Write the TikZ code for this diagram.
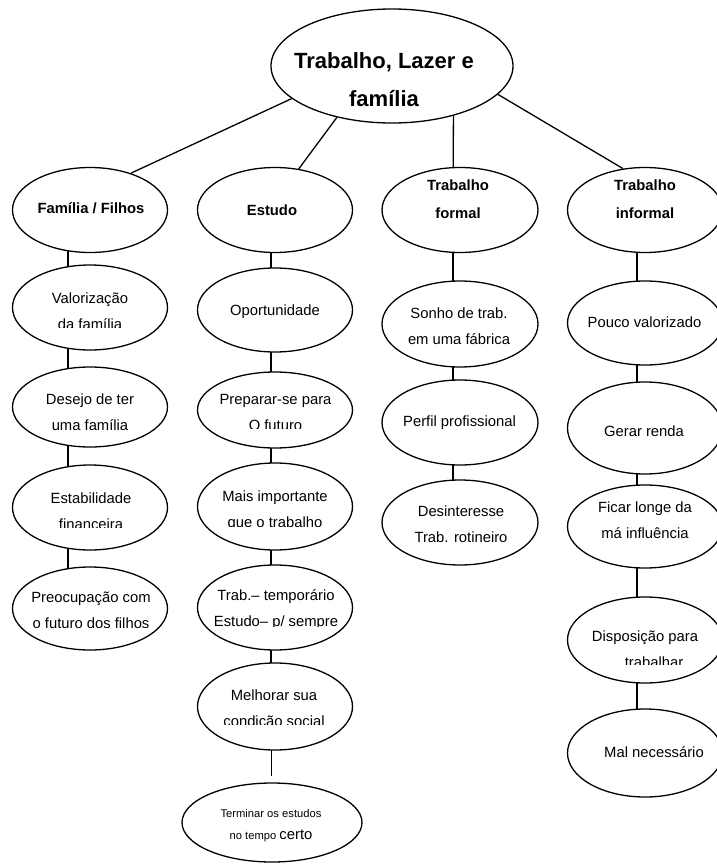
\documentclass[tikz,border=0pt]{standalone}
\usepackage{fontspec}
\setmainfont{Liberation Sans}
\usetikzlibrary{shapes.geometric,backgrounds}
\begin{document}
\begin{tikzpicture}[x=1pt,y=-1pt,
  oval/.style={draw, ellipse, line width=1.3pt, fill=white, inner sep=0pt,
               minimum width=155pt, minimum height=85pt},
  txt/.style={align=center, inner sep=0pt, font=\fontsize{14.8}{26}\selectfont},
  head/.style={align=center, inner sep=0pt, font=\bfseries\fontsize{14.8}{28}\selectfont},
  title/.style={align=center, inner sep=0pt, font=\bfseries\fontsize{22}{38}\selectfont},
  link/.style={line width=1.3pt}]
\useasboundingbox (0,0) rectangle (716,864);

% central theme
\node[oval, minimum width=242pt, minimum height=114pt] (root) at (392,66) {};
\node[title] (root-t) at (384,80) {Trabalho, Lazer e\\família};

% four branches
\node[oval] (fam) at (90,210) {};
\node[head] (fam-t) at (91,208) {Família / Filhos};
\node[oval] (est) at (275,210) {};
\node[head] (est-t) at (272,210) {Estudo};
\node[oval, minimum width=156pt] (tf) at (460,210) {};
\node[head] (tf-t) at (458,199) {Trabalho\\formal};
\node[oval] (ti) at (645,210) {};
\node[head] (ti-t) at (645,199) {Trabalho\\informal};

% Família / Filhos (text boxes cut off just above the last baseline)
\node[oval] (c1a) at (90,307.5) {};
\begin{scope}
  \clip (10,280) rectangle (170,327);
  \node[txt] (c1a-t) at (90,311.5) {Valorização\\da família};
\end{scope}
\node[oval, minimum height=80pt] (c1b) at (90,407) {};
\node[txt] (c1b-t) at (90,412.5) {Desejo de ter\\uma família};
\node[oval] (c1c) at (90,507.5) {};
\begin{scope}
  \clip (10,480) rectangle (170,527);
  \node[txt] (c1c-t) at (91,511.5) {Estabilidade\\financeira};
\end{scope}
\node[oval, minimum height=83pt] (c1d) at (90,608.5) {};
\begin{scope}
  \clip (10,580) rectangle (170,627);
  \node[txt] (c1d-t) at (91,610) {Preocupação com\\o futuro dos filhos};
\end{scope}

% Estudo
\node[oval, minimum height=84pt] (c2a) at (275,310) {};
\node[txt] (c2a-t) at (275,312) {Oportunidade};
\node[oval, minimum height=76pt] (c2b) at (275,410) {};
\begin{scope}
  \clip (195,380) rectangle (355,428.5);
  \node[txt] (c2b-t) at (275.5,412.5) {Preparar-se para\\O futuro};
\end{scope}
\node[oval, minimum height=87pt] (c2c) at (275,506.5) {};
\begin{scope}
  \clip (195,480) rectangle (355,526);
  \node[txt] (c2c-t) at (275,510.5) {Mais importante\\que o trabalho};
\end{scope}
\node[oval] (c2d) at (275,607.5) {};
\begin{scope}
  \clip (195,580) rectangle (355,626.5);
  \node[txt] (c2d-t) at (276,610) {Trab.– temporário\\Estudo– p/ sempre};
\end{scope}
\node[oval, minimum height=87pt] (c2e) at (275,706.5) {};
\begin{scope}
  \clip (195,680) rectangle (355,724.5);
  \node[txt] (c2e-t) at (274,710) {Melhorar sua\\condição social};
\end{scope}
\node[oval, minimum width=180pt, minimum height=79pt] (c2f) at (272,822.5) {};
\node[txt, font=\fontsize{11.2}{22}\selectfont] (c2f-t) at (271,826)
  {Terminar os estudos\\no tempo {\fontsize{14.8}{22}\selectfont certo}};

% Trabalho formal
\node[oval, minimum width=156pt, minimum height=86pt] (c3a) at (460,324) {};
\node[txt] (c3a-t) at (459,326) {Sonho de trab.\\em uma fábrica};
\node[oval, minimum width=156pt] (c3b) at (460,422.5) {};
\node[txt] (c3b-t) at (459.5,423) {Perfil profissional};
\node[oval, minimum width=156pt] (c3c) at (460,522.5) {};
\node[txt] (c3c-t) at (461,524.5) {Desinteresse\\Trab. rotineiro};

% Trabalho informal
\node[oval, minimum height=84pt] (c4a) at (645,323) {};
\node[txt] (c4a-t) at (644.5,322) {Pouco valorizado};
\node[oval, minimum height=92pt] (c4b) at (645,428) {};
\node[txt] (c4b-t) at (644,431) {Gerar renda};
\node[oval, minimum height=83pt] (c4c) at (645,526.5) {};
\node[txt] (c4c-t) at (645,520) {Ficar longe da\\má influência};
\node[oval, minimum height=86pt] (c4d) at (645,640) {};
\begin{scope}
  \clip (565,615) rectangle (716,664.5);
  \node[txt] (c4d-t) at (645,649.5) {Disposição para\\\hspace*{18pt}trabalhar};
\end{scope}
\node[oval, minimum height=88pt] (c4e) at (645,753) {};
\node[txt] (c4e-t) at (654,752) {Mal necessário};

% connectors, kept behind the white ovals
\begin{scope}[on background layer]
  \fill[white] (0,0) rectangle (716,864);
  \draw[link] (root.198) -- (fam.42);
  \draw[link] (root.223.4) -- (est.60.8);
  \draw[link] (root.321.2) -- (tf.99.2);
  \draw[link] (root.345.7) -- (ti.118);

  \draw[link] ([xshift=-22pt]fam.center) -- ([xshift=-22pt]c1a.center);
  \draw[link] ([xshift=-22pt]c1a.center) -- ([xshift=-22pt]c1b.center);
  \draw[link] ([xshift=-22pt]c1b.center) -- ([xshift=-22pt]c1c.center);
  \draw[link] ([xshift=-22pt]c1c.center) -- ([xshift=-22pt]c1d.center);

  \draw[link] ([xshift=-4pt]est.center) -- ([xshift=-4pt]c2a.center);
  \draw[link] ([xshift=-4pt]c2a.center) -- ([xshift=-4pt]c2b.center);
  \draw[link] ([xshift=-4pt]c2b.center) -- ([xshift=-4pt]c2c.center);
  \draw[link] ([xshift=-4pt]c2c.center) -- ([xshift=-4pt]c2d.center);
  \draw[link] ([xshift=-4pt]c2d.center) -- ([xshift=-4pt]c2e.center);
  \draw[link, shorten >=6pt] ([xshift=-3.5pt]c2e.center) -- ([xshift=-0.5pt]c2f.north);

  \draw[link] ([xshift=-7pt]tf.center) -- ([xshift=-7pt]c3a.center);
  \draw[link] ([xshift=-7pt]c3a.center) -- ([xshift=-7pt]c3b.center);
  \draw[link] ([xshift=-7pt]c3b.center) -- ([xshift=-7pt]c3c.center);

  \draw[link] ([xshift=-8pt]ti.center) -- ([xshift=-8pt]c4a.center);
  \draw[link] ([xshift=-8pt]c4a.center) -- ([xshift=-8pt]c4b.center);
  \draw[link] ([xshift=-8pt]c4b.center) -- ([xshift=-8pt]c4c.center);
  \draw[link] ([xshift=-8pt]c4c.center) -- ([xshift=-8pt]c4d.center);
  \draw[link] ([xshift=-8pt]c4d.center) -- ([xshift=-8pt]c4e.center);
\end{scope}
\end{tikzpicture}
\end{document}
